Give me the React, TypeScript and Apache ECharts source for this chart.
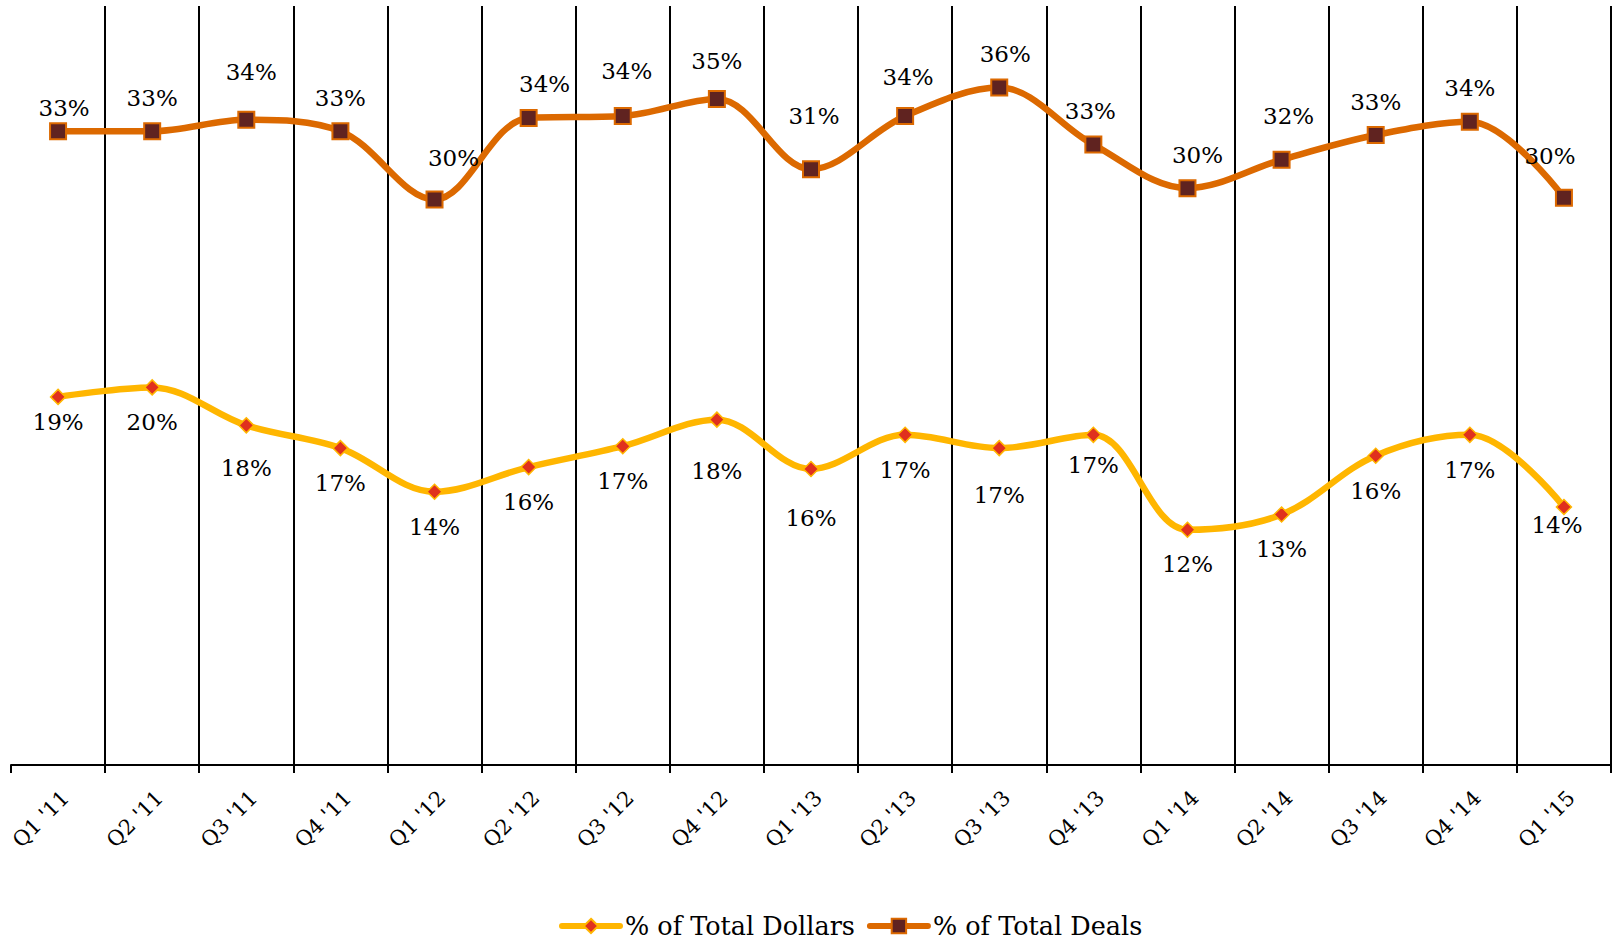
import React, { useEffect, useRef } from "react";
import * as echarts from "echarts";

const categories = [
  "Q1 '11", "Q2 '11", "Q3 '11", "Q4 '11",
  "Q1 '12", "Q2 '12", "Q3 '12", "Q4 '12",
  "Q1 '13", "Q2 '13", "Q3 '13", "Q4 '13",
  "Q1 '14", "Q2 '14", "Q3 '14", "Q4 '14",
  "Q1 '15",
];

const pctTotalDollars = [
  19.4, 19.9, 17.9, 16.7, 14.4, 15.7, 16.8, 18.2, 15.6, 17.4, 16.7, 17.4,
  12.4, 13.2, 16.3, 17.4, 13.6,
];

const pctTotalDeals = [
  33.4, 33.4, 34.0, 33.4, 29.8, 34.1, 34.2, 35.1, 31.4, 34.2, 35.7, 32.7,
  30.4, 31.9, 33.2, 33.9, 29.9,
];

const seriesNames = ["% of Total Dollars", "% of Total Deals"];

const FONT = "DejaVu Serif";

export default function App() {
  const ref = useRef<HTMLDivElement>(null);

  useEffect(() => {
    if (!ref.current) return;
    const chart = echarts.init(ref.current, undefined, { renderer: "svg" });
    const labelFmt = (p: any) => Math.round(p.value) + "%";

    // label placement tweaks (styling only), keyed by category index
    const dollarNudge: Record<number, [number, number]> = {
      0: [0, -10],
      2: [0, 8],
      7: [0, 17],
      8: [0, 14],
      10: [0, 12],
      11: [0, -5],
      14: [0, 1],
      16: [-7, -17],
    };
    const dealNudge: Record<number, [number, number]> = {
      0: [6, 10],
      2: [5, -14],
      4: [19, -8],
      5: [16, 0],
      6: [4, -12],
      7: [0, -4],
      8: [3, -20],
      9: [3, -6],
      10: [6, 0],
      11: [-3, 0],
      12: [10, 0],
      13: [7, -10],
      16: [-14, -8],
    };
    const build = (vals: number[], nudge: Record<number, [number, number]>) =>
      vals.map((v, i) =>
        nudge[i] ? { value: v, label: { offset: nudge[i] } } : { value: v }
      );

    chart.setOption({
      animation: false,
      backgroundColor: "#ffffff",
      grid: {
        left: 11,
        right: 3,
        top: 6,
        bottom: 175,
        containLabel: false,
        outerBoundsMode: "none",
      },
      legend: {
        top: 908,
        left: 554,
        itemWidth: 58,
        itemHeight: 18,
        itemGap: 12,
        lineStyle: { width: 6 },
        textStyle: { fontFamily: FONT, fontSize: 25.5, color: "#000" },
        data: seriesNames,
      },
      xAxis: {
        type: "category",
        data: categories,
        boundaryGap: true,
        axisLine: { show: true, lineStyle: { color: "#000", width: 2 } },
        axisTick: { show: true, length: 8, lineStyle: { color: "#000", width: 2 } },
        axisLabel: {
          rotate: 45,
          margin: 22,
          interval: 0,
          fontFamily: FONT,
          fontSize: 21,
          color: "#000",
          verticalAlign: "top",
        },
        splitLine: {
          show: true,
          showMinLine: false,
          showMaxLine: true,
          interval: 0,
          lineStyle: { color: "#000", width: 2 },
        },
      },
      yAxis: {
        type: "value",
        min: 0,
        max: 40,
        interval: 10,
        show: false,
        splitLine: { show: false },
      },
      series: [
        {
          name: seriesNames[0],
          type: "line",
          data: build(pctTotalDollars, dollarNudge),
          smooth: 0.35,
          symbol: "diamond",
          symbolSize: 15,
          lineStyle: { color: "#FFB600", width: 6.5, cap: "round" },
          itemStyle: { color: "#E0301E", borderColor: "#FFB600", borderWidth: 1.5 },
          label: {
            show: true,
            position: "bottom",
            distance: 15,
            formatter: labelFmt,
            fontFamily: FONT,
            fontSize: 23,
            color: "#000",
          },
          z: 3,
        },
        {
          name: seriesNames[1],
          type: "line",
          data: build(pctTotalDeals, dealNudge),
          smooth: 0.35,
          symbol: "rect",
          symbolSize: 16,
          lineStyle: { color: "#DC6900", width: 6.5, cap: "round" },
          itemStyle: { color: "#602320", borderColor: "#DC6900", borderWidth: 2 },
          label: {
            show: true,
            position: "top",
            distance: 13,
            formatter: labelFmt,
            fontFamily: FONT,
            fontSize: 23,
            color: "#000",
          },
          z: 3,
        },
      ],
    });
    return () => chart.dispose();
  }, []);

  return (
    <div
      ref={ref}
      style={{ position: "fixed", left: 0, top: 0, width: 1614, height: 940, background: "#fff" }}
    />
  );
}
